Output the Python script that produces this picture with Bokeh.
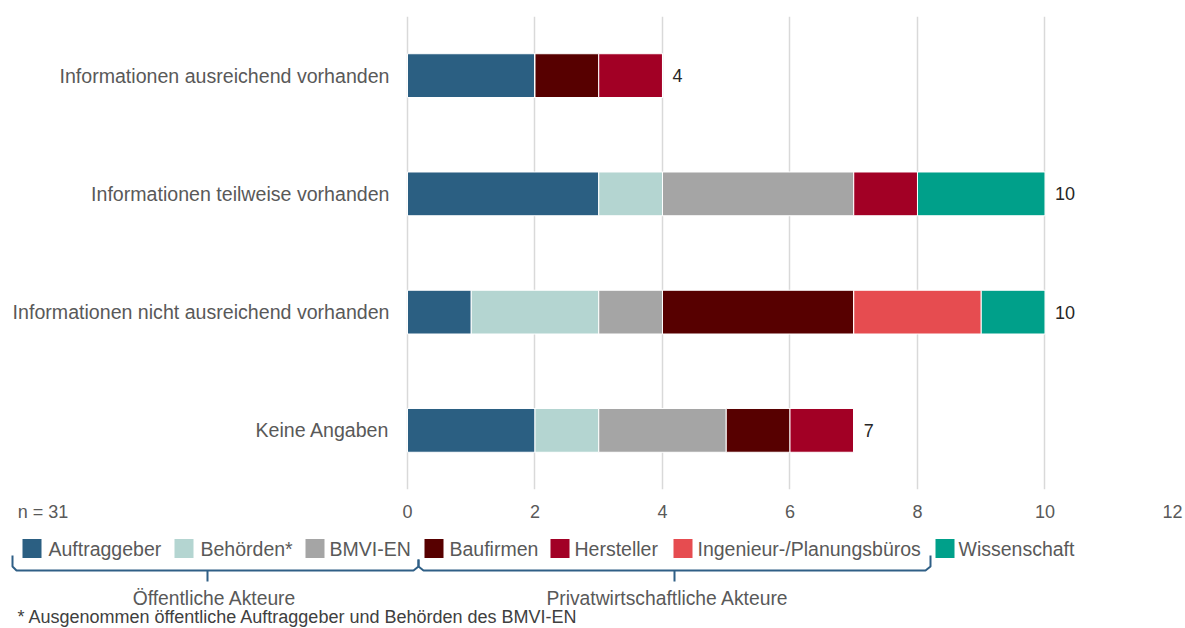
from bokeh.plotting import figure
from bokeh.models import ColumnDataSource, FactorRange, Range1d, FixedTicker
from bokeh.layouts import column
from bokeh.core.properties import value
from bokeh.embed import file_html
from bokeh.resources import INLINE

# ---------------- data ----------------
categories = [
    "Informationen ausreichend vorhanden",
    "Informationen teilweise vorhanden",
    "Informationen nicht ausreichend vorhanden",
    "Keine Angaben",
]
auftraggeber = [2, 3, 1, 2]
behoerden = [0, 1, 2, 1]
bmvi_en = [0, 3, 1, 2]
baufirmen = [1, 0, 3, 1]
hersteller = [1, 1, 0, 1]
ingenieur = [0, 0, 2, 0]
wissenschaft = [0, 2, 1, 0]

series_keys = ["auftraggeber", "behoerden", "bmvi_en", "baufirmen",
               "hersteller", "ingenieur", "wissenschaft"]
series_labels = ["Auftraggeber", "Behörden*", "BMVI-EN", "Baufirmen",
                 "Hersteller", "Ingenieur-/Planungsbüros", "Wissenschaft"]
series_colors = ["#2b5f82", "#b4d5d1", "#a5a5a5", "#570000",
                 "#a20025", "#e64c50", "#00a08a"]
x_ticks = [0, 2, 4, 6, 8, 10, 12]
n_label = "n = 31"
group_labels = ["Öffentliche Akteure", "Privatwirtschaftliche Akteure"]
footnote = "* Ausgenommen öffentliche Auftraggeber und Behörden des BMVI-EN"

FONT = "Liberation Sans"
GREY = "#595959"

data = dict(cat=categories, auftraggeber=auftraggeber, behoerden=behoerden,
            bmvi_en=bmvi_en, baufirmen=baufirmen, hersteller=hersteller,
            ingenieur=ingenieur, wissenschaft=wissenschaft)
source = ColumnDataSource(data)

totals = [sum(v) for v in zip(auftraggeber, behoerden, bmvi_en, baufirmen,
                              hersteller, ingenieur, wissenschaft)]
tot_src = ColumnDataSource(dict(cat=categories, total=totals,
                                label=[str(t) for t in totals]))

# ---------------- main chart ----------------
# frame spans the full width; x=0 sits at 407 px, x=12 at 1172 px
X_START = -6.3843
N_POS = -5.71875  # where the "n = 31" note sits on the axis row

p = figure(width=1185, height=530,
           y_range=FactorRange(factors=categories[::-1], range_padding=0),
           x_range=Range1d(X_START, 12),
           output_backend="svg", toolbar_location=None,
           y_axis_location=None,
           min_border_left=0, min_border_right=13,
           min_border_top=16, min_border_bottom=41)
p.outline_line_color = None
p.background_fill_color = "white"
p.border_fill_color = "white"

p.hbar_stack(series_keys, y="cat", height=0.37, source=source,
             fill_color=series_colors, line_color="white", line_width=1)

# category labels, right-aligned just left of x = 0
p.text(x=0, y="cat", text="cat", source=source, x_offset=-18,
       text_baseline="middle", text_align="right",
       text_font=value(FONT), text_font_size="19.6px", text_color=GREY)

# totals at the end of each bar
p.text(x="total", y="cat", text="label", source=tot_src,
       x_offset=10, text_baseline="middle", text_align="left",
       text_font=value(FONT), text_font_size="18px", text_color="#262626")

p.xaxis.ticker = FixedTicker(ticks=[N_POS] + x_ticks)
p.xaxis.major_label_overrides = {N_POS: n_label}
p.xaxis.axis_line_color = None
p.xaxis.major_tick_line_color = None
p.xaxis.minor_tick_line_color = None
p.xaxis.major_label_text_font = FONT
p.xaxis.major_label_text_font_size = "18px"
p.xaxis.major_label_text_color = GREY
p.xaxis.major_label_standoff = 6

p.ygrid.grid_line_color = None
p.xgrid.ticker = FixedTicker(ticks=x_ticks)
p.xgrid.grid_line_color = "#d9d9d9"
p.xgrid.grid_line_width = 1.5

# ---------------- legend area ----------------
lg = figure(width=1185, height=98, x_range=Range1d(0, 1172),
            y_range=Range1d(98, 0), output_backend="svg",
            toolbar_location=None, x_axis_location=None,
            y_axis_location=None, min_border_left=0, min_border_right=13,
            min_border_top=0, min_border_bottom=0)
lg.outline_line_color = None
lg.xgrid.grid_line_color = None
lg.ygrid.grid_line_color = None
lg.background_fill_color = "white"
lg.border_fill_color = "white"

sq_left = [22, 174, 305, 424, 550, 673, 935]
txt_left = [48, 200, 329, 449, 574, 697, 958]
lg.quad(left=sq_left, right=[x + 19 for x in sq_left],
        top=[8.5] * 7, bottom=[27.5] * 7, fill_color=series_colors,
        line_color=None)
lg.text(x=txt_left, y=[18] * 7, text=series_labels, text_baseline="middle",
        text_align="left", text_font=value(FONT), text_font_size="19.5px",
        text_color=GREY)

BR = "#2f5f86"
lg.multi_line(xs=[[12, 12, 16, 413, 418, 418],
                  [418, 418, 423, 925, 930, 930],
                  [207, 207], [674, 674]],
              ys=[[25, 36, 40, 40, 36, 29],
                  [29, 36, 40, 40, 36, 25],
                  [40, 51], [40, 51]],
              line_color=BR, line_width=2)
lg.text(x=[214, 667], y=[68, 68], text=group_labels, text_baseline="middle",
        text_align="center", text_font=value(FONT), text_font_size="19.3px",
        text_color=GREY)
lg.text(x=[17], y=[86], text=[footnote], text_baseline="middle",
        text_align="left", text_font=value(FONT), text_font_size="18px",
        text_color="#404040")

layout = column(p, lg, spacing=0)
open("out.html", "w").write(file_html(layout, INLINE))
